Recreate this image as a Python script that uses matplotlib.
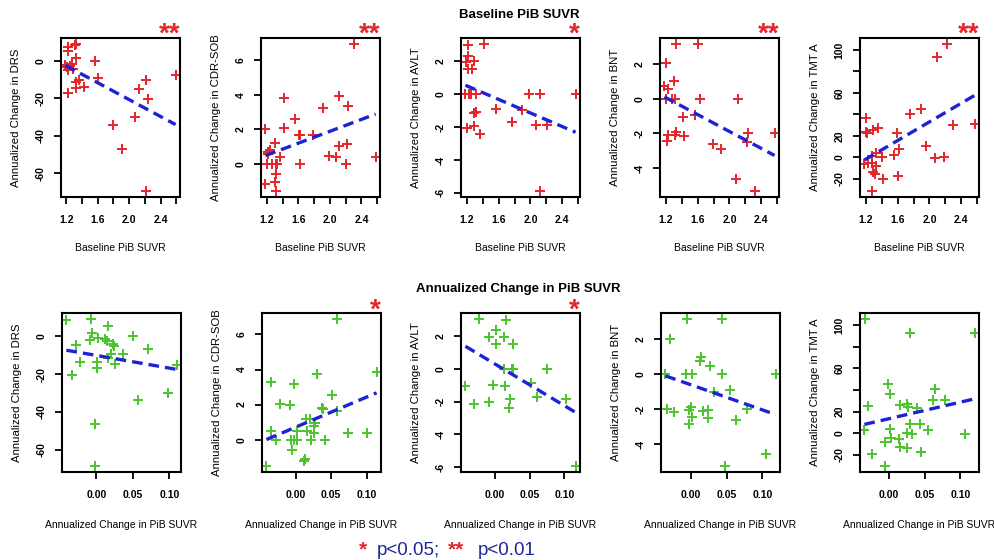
import numpy as np
import matplotlib
matplotlib.use("Agg")
import matplotlib.pyplot as plt
from matplotlib.transforms import offset_copy

plt.rcParams['font.family'] = ['Liberation Sans', 'DejaVu Sans']
plt.rcParams['axes.unicode_minus'] = False

# ---------------- data ----------------
measures = ["DRS", "CDR-SOB", "AVLT", "BNT", "TMT A"]

# Baseline PiB SUVR vs annualized change in each measure
base_drs_x = [1.22, 1.32, 1.31, 1.225, 1.33, 1.19, 1.21, 1.25, 1.275, 1.29, 1.22, 1.36, 1.32,
              1.33, 1.43, 1.22, 1.57, 1.61, 1.79, 1.91, 2.08, 2.12, 2.22, 2.24, 2.21, 2.59]
base_drs_y = [7.6, 9.1, 8.5, 5.5, 1.3, -2, -3.3, -2.9, -1.5, -4.2, -5.1, -10.2, -11.1,
              -14.7, -14.2, -17.3, 0.2, -9.3, -34.5, -47.3, -30.2, -15.1, -10, -20.5, -69.6, -7.3]

base_cdr_x = [1.18, 1.21, 1.21, 1.24, 1.2, 1.18, 1.26, 1.32, 1.33, 1.30, 1.30, 1.32, 1.32, 1.36,
              1.41, 1.41, 1.56, 1.61, 1.62, 1.62, 1.79, 1.91, 1.99, 2.08, 2.12, 2.12, 2.23, 2.22,
              2.2, 2.31, 2.58]
base_cdr_y = [2.05, 0.72, 0.57, 0.82, 0, -1.13, 0, 0, 0, 1.21, -1.04, -0.55, -1.56, 0.39,
              3.81, 2.09, 2.62, 1.7, 1.7, 0, 1.7, 3.24, 0.49, 0.43, 3.91, 1.02, 3.36, 1.17,
              0, 6.93, 0.43]

base_avlt_x = [1.21, 1.21, 1.19, 1.21, 1.26, 1.29, 1.42, 1.18, 1.22, 1.25, 1.31, 1.31, 1.29,
               1.20, 1.29, 1.36, 1.56, 1.77, 1.9, 1.98, 2.07, 2.12, 2.21, 2.12, 2.57]
base_avlt_y = [2.97, 2.32, 1.95, 1.5, 1.5, 1.99, 3.04, 0, 0, 0, 0, -1.07, -1.13,
               -2.09, -1.95, -2.4, -0.88, -1.7, -0.96, 0, -1.85, 0, -1.85, -5.89, 0]

base_bnt_x = [1.32, 1.61, 1.2, 1.18, 1.22, 1.30, 1.2, 1.28, 1.31, 1.63, 1.42, 1.57, 1.21,
              1.23, 1.31, 1.33, 1.43, 1.79, 1.90, 2.11, 2.08, 2.23, 2.22, 2.32, 2.57]
base_bnt_y = [3.16, 3.16, 2.03, 0.76, 0.53, 1.0, 0, 0, 0, 0, -1.04, -0.92, -2.46,
              -2.07, -2.07, -1.93, -2.17, -2.64, -2.91, 0, -4.61, -1.99, -2.52, -5.33, -1.99]

base_tmt_x = [2.10, 2.22, 1.76, 1.89, 1.2, 1.2, 1.21, 1.29, 1.35, 1.59, 1.62, 1.55, 1.40,
              1.33, 1.27, 1.23, 1.28, 1.18, 1.32, 1.29, 1.31, 1.42, 1.61, 1.28, 1.96, 2.07,
              2.19, 2.30, 2.57]
base_tmt_y = [93.1, 105.7, 40.7, 45.4, 36.6, 24, 22.7, 25.9, 27.4, 22.7, 7.9, 2.2, 0,
              3.8, 1.6, -5, -5, -6.6, -8.2, -13.6, -15.1, -19.9, -17.7, -31.5, 10.1, -0.9,
              0, 30, 30.6]

# Annualized change in PiB SUVR vs annualized change in each measure
chg_drs_x = [-0.041, -0.0074, -0.006, -0.008, 0.0018, -0.0276, -0.022, -0.033, 0.001, 0.001,
             -0.0014, -0.0023, 0.0115, 0.0147, 0.0157, 0.0157, 0.0207, 0.023, 0.024, 0.025,
             0.0369, 0.0498, 0.057, 0.071, 0.0986, 0.11]
chg_drs_y = [8.6, 9.2, 1.8, -2.2, -0.9, -4.5, -13.8, -20.6, -13.8, -16.9,
             -46.5, -68.6, -1.3, -2.5, 5.6, -11.7, -9.3, -3.9, -5.2, -14.4,
             -9.3, 0.2, -33.9, -6.6, -30, -15.1]

chg_cdr_x = [-0.041, -0.0344, -0.027, -0.034, -0.022, -0.008, -0.0024, -0.007, -0.005, -0.0024,
             0.0024, 0.0024, 0.0118, 0.0137, 0.0156, 0.0146, 0.021, 0.0222, 0.026, 0.026,
             0.027, 0.0297, 0.0377, 0.039, 0.042, 0.0514, 0.059, 0.059, 0.074, 0.101, 0.114]
chg_cdr_y = [-1.51, 0.47, 0, 3.3, 2.04, 1.98, 3.2, 0, -0.58, 0,
             0, 0.52, -1.22, -1.13, 0.47, 1.2, 1.2, 0, 0.39, 0.76,
             0.95, 3.77, 1.79, 1.73, 0, 2.56, 6.89, 1.65, 0.39, 0.39, 3.86]

chg_avlt_x = [-0.0226, 0.0163, 0.0014, -0.0077, 0.0135, 0.0019, 0.026, -0.0418, -0.0288,
              -0.0077, -0.0019, 0.0149, 0.0135, 0.0245, 0.027, 0.022, 0.0212, 0.0524,
              0.0606, 0.075, 0.1024, 0.116]
chg_avlt_y = [3.05, 2.99, 2.37, 1.92, 1.96, 1.5, 1.5, -1.07, -2.12,
              -2.0, -0.99, -1.03, 0, 0, 0, -1.86, -2.41, -0.87,
              -1.75, 0, -1.86, -5.94]

chg_bnt_x = [-0.0047, 0.0441, -0.0286, 0.015, 0.0131, 0.0268, -0.0352, -0.0061, 0.0023,
             0.0441, 0.1183, 0.0549, 0.0329, -0.0333, -0.0235, -0.0028, 0.0009, 0.0019,
             -0.0023, 0.0174, 0.0244, 0.0235, 0.0634, 0.0784, 0.0479, 0.1056]
chg_bnt_y = [3.17, 3.17, 2.04, 0.97, 0.78, 0.49, 0, 0, 0,
             0, 0, -0.87, -1.03, -2.0, -2.17, -2.04, -1.88, -2.43,
             -2.85, -2.08, -2.04, -2.49, -2.62, -2.0, -5.24, -4.56]

chg_tmt_x = [-0.0329, 0.0291, 0.1197, -0.0009, 0.0023, -0.0282, 0.0164, 0.0249, 0.0272,
             0.0399, 0.0643, 0.0624, 0.0784, -0.0338, 0.0014, 0.0033, -0.0047, 0.0146,
             0.0155, 0.0249, 0.0258, 0.0296, 0.0329, 0.0437, 0.0446, 0.0554, -0.023,
             -0.0056, 0.1066]
chg_tmt_y = [105.7, 92.8, 92.8, 45.9, 36.2, 25.2, 26.1, 27, 23.9,
             23, 40.9, 30.2, 30.8, 3.1, 4.1, -4.4, -8.5, -5.3,
             -13.2, 0, -13.8, 8.8, -0.6, 8.2, -17.3, 2.5, -19.5,
             -30.5, -0.6]

# Linear fit (slope, intercept) per measure
base_fit_slope = [-22.6, 1.71, -2.05, -2.43, 43.3]
base_fit_intercept = [24.5, -1.53, 2.95, 2.97, -53.6]
chg_fit_slope = [-67.0, 17.2, -25.6, -14.4, 154.0]
chg_fit_intercept = [-10.1, 0.71, 0.31, -0.59, 13.3]

# Significance markers
base_stars = ["**", "**", "*", "**", "**"]
chg_stars = ["", "*", "*", "", ""]

# Axis ticks
base_xticks = [1.2, 1.4, 1.6, 1.8, 2.0, 2.2, 2.4, 2.6]
base_xticklabels = ["1.2", "", "1.6", "", "2.0", "", "2.4", ""]
chg_xticks = [0.00, 0.05, 0.10]
chg_xticklabels = ["0.00", "0.05", "0.10"]
yticks = [[-60, -40, -20, 0], [0, 2, 4, 6], [-6, -4, -2, 0, 2], [-4, -2, 0, 2],
          [-20, 0, 20, 40, 60, 80, 100]]
yticklabels = [["-60", "-40", "-20", "0"], ["0", "2", "4", "6"],
               ["-6", "-4", "-2", "0", "2"], ["-4", "-2", "0", "2"],
               ["-20", "0", "20", "", "60", "", "100"]]

base_x = [base_drs_x, base_cdr_x, base_avlt_x, base_bnt_x, base_tmt_x]
base_y = [base_drs_y, base_cdr_y, base_avlt_y, base_bnt_y, base_tmt_y]
chg_x = [chg_drs_x, chg_cdr_x, chg_avlt_x, chg_bnt_x, chg_tmt_x]
chg_y = [chg_drs_y, chg_cdr_y, chg_avlt_y, chg_bnt_y, chg_tmt_y]

# ---------------- styling ----------------
RED = "#e3262b"
GREEN = "#4cc42c"
BLUE = "#1c22d6"
NAVY = "#1d2796"

W, H = 995, 560
fig = plt.figure(figsize=(W / 100, H / 100), dpi=100)


def add_box(left, top, w=119, h=159):
    return fig.add_axes([left / W, 1 - (top + h) / H, w / W, h / H])


def draw_panel(ax, x, y, color, slope, intercept, yt, ytl, xt, xtl,
               xlabel, ylabel, stars, star_dy, xlabel_dy):
    ax.plot(x, y, linestyle="none", marker="+", ms=6.5, mew=1.4, color=color)
    xs = np.array([min(x), max(x)])
    ax.plot(xs, intercept + slope * xs, color=BLUE, lw=2.4, dashes=(3.2, 1.8),
            solid_capstyle="butt", dash_capstyle="butt")
    ax.margins(0.04)
    ax.set_xticks(xt)
    ax.set_xticklabels(xtl, fontweight="bold", fontsize=7.5)
    ax.set_yticks(yt)
    ax.set_yticklabels(ytl, fontweight="bold", fontsize=7.5, rotation=90,
                       va="center")
    ax.tick_params(direction="out", length=5, width=1.3, color="black")
    ax.tick_params(axis="x", pad=8)
    ax.tick_params(axis="y", pad=6)
    for s in ax.spines.values():
        s.set_linewidth(1.5)
    ax.text(-45 / 119, 0.5, ylabel, transform=ax.transAxes, rotation=90,
            ha="center", va="center", fontsize=8.2)
    ax.text(0.5, -xlabel_dy / 159, xlabel, transform=ax.transAxes,
            ha="center", va="center", fontsize=7.5)
    if stars:
        tr = offset_copy(ax.transAxes, fig=fig, x=0, y=-star_dy, units="dots")
        ax.text(1.0, 1.0, stars, transform=tr, ha="right", va="baseline",
                color=RED, fontsize=20, fontweight="bold")


top_lefts = [61, 261, 461, 660, 860]
bot_lefts = [62, 262, 461, 661, 860]

for i in range(5):
    ax = add_box(top_lefts[i], 38)
    draw_panel(ax, base_x[i], base_y[i], RED, base_fit_slope[i], base_fit_intercept[i],
               yticks[i], yticklabels[i], base_xticks, base_xticklabels,
               "Baseline PiB SUVR", "Annualized Change in " + measures[i],
               base_stars[i], 4.0, 51)

for i in range(5):
    ax = add_box(bot_lefts[i], 313)
    draw_panel(ax, chg_x[i], chg_y[i], GREEN, chg_fit_slope[i], chg_fit_intercept[i],
               yticks[i], yticklabels[i], chg_xticks, chg_xticklabels,
               "Annualized Change in PiB SUVR", "Annualized Change in " + measures[i],
               chg_stars[i], 5.0, 53)

fig.text(519 / W, 1 - 15 / H, "Baseline PiB SUVR", ha="center", va="center",
         fontsize=9.5, fontweight="bold")
fig.text(518 / W, 1 - 289 / H, "Annualized Change in PiB SUVR", ha="center",
         va="center", fontsize=9.5, fontweight="bold")

# significance key
key_y = 1 - 555 / H
fig.text(359 / W, key_y, "*", color=RED, fontsize=15, fontweight="bold",
         ha="left", va="baseline")
fig.text(377 / W, key_y, "p<0.05;", color=NAVY, fontsize=13.5,
         ha="left", va="baseline")
fig.text(448 / W, key_y, "**", color=RED, fontsize=15, fontweight="bold",
         ha="left", va="baseline")
fig.text(478 / W, key_y, "p<0.01", color=NAVY, fontsize=13.5,
         ha="left", va="baseline")

fig.savefig("out.png", dpi=100)
